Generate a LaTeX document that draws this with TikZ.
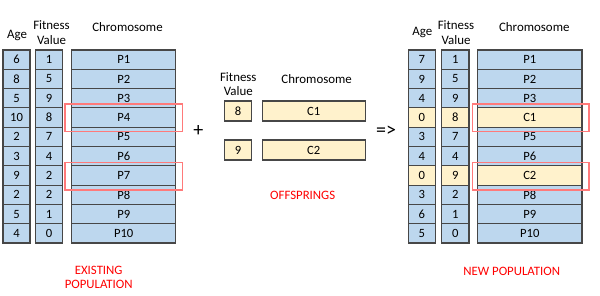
\documentclass[tikz,border=0pt]{standalone}
\usepackage{fontspec}
\setmainfont{Carlito}
\begin{document}
\begin{tikzpicture}[x=1pt,y=-1pt,
  cell/.style={draw=black!72,line width=1.1pt,inner sep=0pt,minimum height=19.3pt,font=\fontsize{12.6}{14}\selectfont},
  bluecell/.style={cell,fill=blueF},
  yelcell/.style={cell,fill=yelF},
  hdr/.style={align=center,inner sep=0pt,font=\fontsize{12.9}{14.4}\selectfont},
  redbox/.style={draw=redB,line width=1.1pt,inner sep=0pt,minimum width=117.7pt,minimum height=27.7pt},
  redtxt/.style={text=red,align=center,inner sep=0pt,font=\fontsize{12.8}{13.6}\selectfont},
  sym/.style={inner sep=0pt,font=\fontsize{20}{22}\selectfont}]
\definecolor{blueF}{HTML}{BDD7EE}
\definecolor{yelF}{HTML}{FFF2CC}
\definecolor{redB}{HTML}{FF7A7A}
\useasboundingbox (0,0) rectangle (600,295);
% ---------- existing population ----------
\node[hdr] (hla) at (17,35) {Age};
\node[hdr] (hlf) at (51.5,32.5) {Fitness\\Value};
\node[hdr] (hlc) at (127.5,27) {Chromosome};
\foreach \a/\f [count=\i from 0] in {6/1,8/5,5/9,10/8,2/7,3/4,9/2,2/2,5/1,4/0}{
  \pgfmathsetmacro{\yy}{59.65+19.3*\i}
  \pgfmathtruncatemacro{\n}{\i+1}
  \node[bluecell,minimum width=27pt] (la\i) at (16.5,\yy) {\a};
  \node[bluecell,minimum width=26.6pt] (lf\i) at (49,\yy) {\f};
  \node[bluecell,minimum width=104pt] (lc\i) at (123.7,\yy) {P\n};
}
\node[redbox] (lr1) at (123.85,117.85) {};
\node[redbox] (lr2) at (123.85,176.15) {};
\node[redtxt] (lt) at (98.7,277.5) {EXISTING\\POPULATION};
% ---------- plus ----------
\node[sym] (plus) at (198.3,130.5) {+};
% ---------- offsprings ----------
\node[hdr] (hmf) at (238.3,84) {Fitness\\Value};
\node[hdr] (hmc) at (316.7,79.3) {Chromosome};
\node[yelcell,minimum width=27.4pt,minimum height=20pt] (mf1) at (238,111) {8};
\node[yelcell,minimum width=102.7pt,minimum height=20pt] (mc1) at (313.7,111) {C1};
\node[yelcell,minimum width=27.4pt,minimum height=20pt] (mf2) at (238,150) {9};
\node[yelcell,minimum width=102.7pt,minimum height=20pt] (mc2) at (313.7,150) {C2};
\node[redtxt] (mt) at (302.7,195) {OFFSPRINGS};
% ---------- arrow ----------
\node[sym] (imp) at (386,131.5) {=>};
% ---------- new population ----------
\node[hdr] (hra) at (422.3,32) {Age};
\node[hdr] (hrf) at (456,32.5) {Fitness\\Value};
\node[hdr] (hrc) at (534.3,27) {Chromosome};
\foreach \a/\f/\c/\s [count=\i from 0] in {7/1/P1/bluecell,9/5/P2/bluecell,4/9/P3/bluecell,0/8/C1/yelcell,3/7/P5/bluecell,4/4/P6/bluecell,0/9/C2/yelcell,3/2/P8/bluecell,6/1/P9/bluecell,5/0/P10/bluecell}{
  \pgfmathsetmacro{\yy}{59.65+19.3*\i}
  \node[\s,minimum width=26.7pt] (ra\i) at (421.7,\yy) {\a};
  \node[\s,minimum width=27.3pt] (rf\i) at (455.3,\yy) {\f};
  \node[\s,minimum width=104.3pt] (rc\i) at (529.8,\yy) {\c};
}
\node[redbox,minimum width=116.7pt] (rr1) at (530.65,117.85) {};
\node[redbox,minimum width=116.7pt] (rr2) at (530.65,176.15) {};
\node[redtxt] (rt) at (511.7,271) {NEW POPULATION};
\end{tikzpicture}
\end{document}
